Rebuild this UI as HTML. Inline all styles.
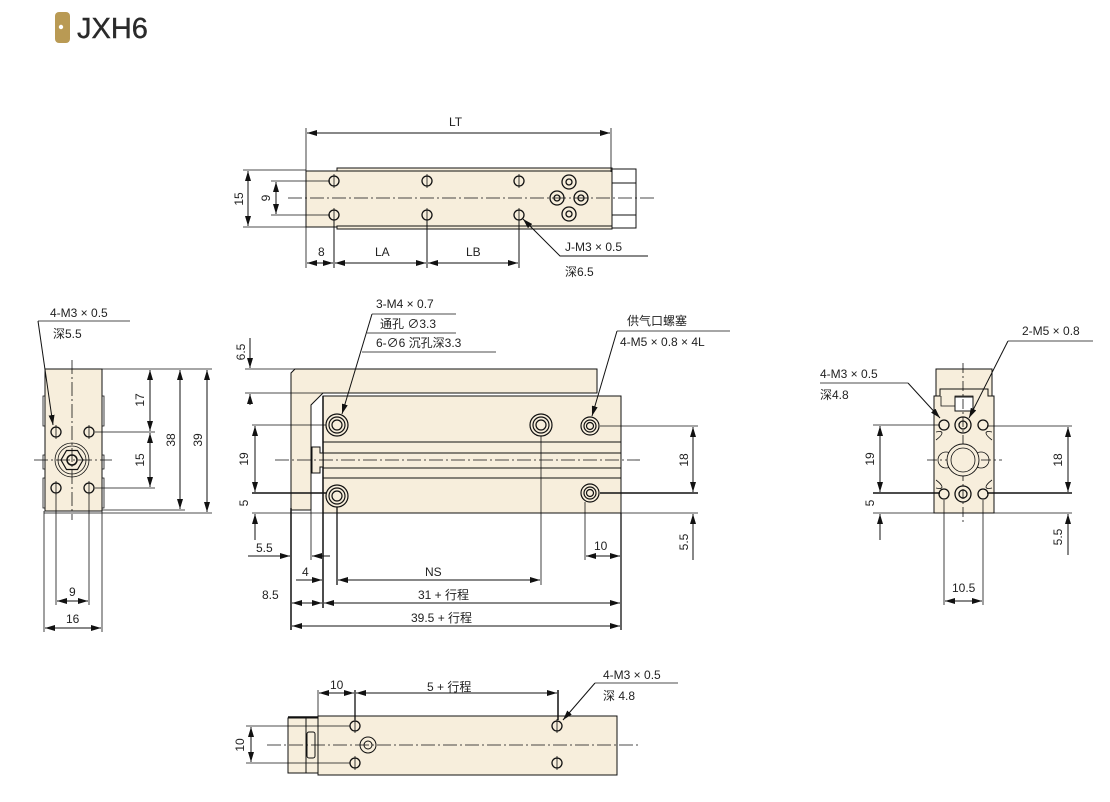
<!DOCTYPE html>
<html><head><meta charset="utf-8">
<style>
html,body{margin:0;padding:0;background:#fff;width:1110px;height:802px;overflow:hidden}
svg{display:block}
text{font-family:"Liberation Sans","Noto Sans CJK SC",sans-serif;font-size:12px;fill:#222}
</style></head><body>
<svg width="1110" height="802" viewBox="0 0 1110 802" xmlns="http://www.w3.org/2000/svg">
<defs>
<marker id="a" viewBox="0 0 10 6" refX="10" refY="3" markerWidth="10" markerHeight="6" orient="auto-start-reverse" markerUnits="userSpaceOnUse"><path d="M0,0L10,3L0,6z" fill="#111"/></marker>
</defs>
<!-- header -->
<rect x="55" y="12" width="15" height="31" rx="4" fill="#b99a54"/>
<circle cx="61" cy="27" r="2.2" fill="#fff"/>
<text x="77" y="38" style="font-size:29px;fill:#2a2a2a;stroke:#2a2a2a;stroke-width:0.4">JXH6</text>

<g stroke="#111" stroke-width="1" fill="none">
<!-- ============ TOP VIEW ============ -->
<rect x="337" y="168" width="275" height="4" fill="#f7eedc"/>
<rect x="306" y="171" width="306" height="56" fill="#f7eedc"/>
<rect x="337" y="226" width="275" height="3" fill="#f7eedc"/>
<rect x="612" y="169" width="24" height="59" fill="#fff"/>
<line x1="612" y1="183" x2="636" y2="183"/><line x1="612" y1="215" x2="636" y2="215"/>
<line x1="288" y1="198" x2="655" y2="198" stroke-dasharray="14 3 2 3" stroke-width="0.8"/>
<g stroke-width="1.3">
<circle cx="334" cy="181" r="5"/><circle cx="427" cy="181" r="5"/><circle cx="519" cy="181" r="5"/>
<circle cx="334" cy="215" r="5"/><circle cx="427" cy="215" r="5"/><circle cx="519" cy="215" r="5"/>
<circle cx="569" cy="182" r="7"/><circle cx="557" cy="198" r="7"/><circle cx="581" cy="198" r="7"/><circle cx="569" cy="214" r="7"/>
<circle cx="569" cy="182" r="3"/><circle cx="557" cy="198" r="3"/><circle cx="581" cy="198" r="3"/><circle cx="569" cy="214" r="3"/>
</g>
<path d="M334,174v14M427,174v14M519,174v14M334,208v14M427,208v14M519,208v14" stroke-width="0.8"/>
<line x1="306" y1="128" x2="306" y2="268" stroke-width="0.8"/>
<line x1="611" y1="128" x2="611" y2="172" stroke-width="0.8"/>
<line x1="307" y1="133" x2="610" y2="133" marker-start="url(#a)" marker-end="url(#a)"/>
<line x1="243" y1="170" x2="306" y2="170" stroke-width="0.8"/><line x1="243" y1="227" x2="306" y2="227" stroke-width="0.8"/>
<line x1="248" y1="171" x2="248" y2="226" marker-start="url(#a)" marker-end="url(#a)"/>
<line x1="271" y1="181" x2="330" y2="181" stroke-width="0.8"/><line x1="271" y1="215" x2="330" y2="215" stroke-width="0.8"/>
<line x1="276" y1="182" x2="276" y2="214" marker-start="url(#a)" marker-end="url(#a)"/>
<line x1="334" y1="220" x2="334" y2="268"/><line x1="427" y1="220" x2="427" y2="268"/><line x1="519" y1="220" x2="519" y2="268"/>
<line x1="307" y1="263" x2="333" y2="263" marker-start="url(#a)" marker-end="url(#a)"/>
<line x1="335" y1="263" x2="426" y2="263" marker-start="url(#a)" marker-end="url(#a)"/>
<line x1="428" y1="263" x2="518" y2="263" marker-start="url(#a)" marker-end="url(#a)"/>
<polyline points="648,256 560,256 523,219" marker-end="url(#a)"/>

<!-- ============ FRONT VIEW ============ -->
<path d="M295,369H597V393H323L311,405V510H291V373Z" fill="#f7eedc"/>
<rect x="323" y="396" width="298" height="117" fill="#f7eedc"/>
<line x1="323" y1="396" x2="323" y2="513" stroke-width="1.5"/>
<line x1="323" y1="442" x2="621" y2="442"/><line x1="323" y1="453" x2="621" y2="453"/>
<line x1="323" y1="468" x2="621" y2="468"/><line x1="323" y1="478" x2="621" y2="478"/>
<path d="M312,447h8v6h3v14h-3v6h-8z" fill="#f7eedc"/>
<line x1="275" y1="460" x2="640" y2="460" stroke-dasharray="14 3 2 3" stroke-width="0.8"/>
<g stroke-width="1.2">
<circle cx="337" cy="425" r="11"/><circle cx="337" cy="425" r="8"/><circle cx="337" cy="425" r="5"/>
<circle cx="541" cy="425" r="11"/><circle cx="541" cy="425" r="8"/><circle cx="541" cy="425" r="5"/>
<circle cx="337" cy="496" r="11"/><circle cx="337" cy="496" r="8"/><circle cx="337" cy="496" r="5"/>
<circle cx="590" cy="426" r="9"/><circle cx="590" cy="426" r="6"/><circle cx="590" cy="426" r="3.5"/>
<circle cx="590" cy="493" r="9"/><circle cx="590" cy="493" r="6"/><circle cx="590" cy="493" r="3.5"/>
</g>
<line x1="245" y1="369" x2="295" y2="369" stroke-width="0.8"/><line x1="245" y1="393" x2="323" y2="393" stroke-width="0.8"/>
<line x1="250" y1="338" x2="250" y2="368" marker-end="url(#a)"/>
<line x1="250" y1="405" x2="250" y2="394" marker-end="url(#a)"/>
<line x1="252" y1="425" x2="326" y2="425" stroke-width="0.8"/>
<line x1="252" y1="493" x2="326" y2="493" stroke-width="1.5"/>
<line x1="252" y1="513" x2="621" y2="513" stroke-width="0.8"/>
<line x1="255" y1="426" x2="255" y2="492" marker-start="url(#a)" marker-end="url(#a)"/>
<line x1="255" y1="540" x2="255" y2="514" marker-end="url(#a)"/>
<line x1="600" y1="426" x2="698" y2="426" stroke-width="0.8"/>
<line x1="600" y1="493" x2="698" y2="493" stroke-width="1.5"/>
<line x1="621" y1="513" x2="698" y2="513" stroke-width="0.8"/>
<line x1="693" y1="427" x2="693" y2="492" marker-start="url(#a)" marker-end="url(#a)"/>
<line x1="693" y1="560" x2="693" y2="514" marker-end="url(#a)"/>
<line x1="291" y1="508" x2="291" y2="630" stroke-width="1.5"/>
<line x1="311" y1="510" x2="311" y2="560" stroke-width="0.8"/>
<line x1="323" y1="513" x2="323" y2="608" stroke-width="1.5"/>
<line x1="337" y1="507" x2="337" y2="585" stroke-width="1.3"/>
<line x1="541" y1="436" x2="541" y2="585" stroke-width="0.8"/>
<line x1="585" y1="502" x2="585" y2="560" stroke-width="0.8"/>
<line x1="621" y1="513" x2="621" y2="630" stroke-width="1.3"/>
<line x1="248" y1="556" x2="290" y2="556" marker-end="url(#a)"/>
<line x1="330" y1="556" x2="312" y2="556" marker-end="url(#a)"/>
<line x1="296" y1="580" x2="322" y2="580" marker-end="url(#a)"/>
<line x1="338" y1="580" x2="540" y2="580" marker-start="url(#a)" marker-end="url(#a)"/>
<line x1="586" y1="556" x2="620" y2="556" marker-start="url(#a)" marker-end="url(#a)"/>
<line x1="292" y1="603" x2="322" y2="603" marker-start="url(#a)" marker-end="url(#a)"/>
<line x1="324" y1="603" x2="620" y2="603" marker-start="url(#a)" marker-end="url(#a)"/>
<line x1="292" y1="626" x2="620" y2="626" marker-start="url(#a)" marker-end="url(#a)"/>
<line x1="372" y1="314" x2="456" y2="314" stroke-width="0.8"/>
<line x1="367" y1="333" x2="456" y2="333" stroke-width="0.8"/>
<line x1="362" y1="352" x2="496" y2="352" stroke-width="0.8"/>
<polyline points="372,314 342,414" marker-end="url(#a)"/>
<line x1="617" y1="331" x2="730" y2="331" stroke-width="0.8"/>
<polyline points="617,331 592,416" marker-end="url(#a)"/>

<!-- ============ LEFT VIEW ============ -->
<rect x="45" y="369" width="57" height="142" fill="#f7eedc"/>
<path d="M45,396h-2v30h2M45,455h-2v14h2M45,478h-2v30h2M102,396h2v30h-2M102,455h2v14h-2M102,478h2v30h-2" stroke-width="0.8"/>
<line x1="72" y1="360" x2="72" y2="520" stroke-dasharray="14 3 2 3" stroke-width="0.8"/>
<line x1="34" y1="460" x2="112" y2="460" stroke-dasharray="14 3 2 3" stroke-width="0.8"/>
<circle cx="72" cy="460" r="17" stroke-width="0.8"/><circle cx="72" cy="460" r="14" stroke-width="0.8"/>
<polygon points="83,460 77.5,469.5 66.5,469.5 61,460 66.5,450.5 77.5,450.5" stroke-width="1.2"/>
<circle cx="72" cy="460" r="5" stroke-width="1.5"/>
<g stroke-width="1.3"><circle cx="56" cy="432" r="5"/><circle cx="89" cy="432" r="5"/><circle cx="56" cy="488" r="5"/><circle cx="89" cy="488" r="5"/></g>
<path d="M56,425v14M89,425v14M56,481v14M89,481v14" stroke-width="0.8"/>
<line x1="102" y1="369" x2="212" y2="369" stroke-width="0.8"/>
<line x1="95" y1="432" x2="155" y2="432" stroke-width="0.8"/>
<line x1="95" y1="488" x2="155" y2="488" stroke-width="0.8"/>
<line x1="102" y1="510" x2="185" y2="510" stroke-width="0.8"/>
<line x1="44" y1="513" x2="212" y2="513" stroke-width="0.8"/>
<line x1="150" y1="370" x2="150" y2="431" marker-start="url(#a)" marker-end="url(#a)"/>
<line x1="150" y1="433" x2="150" y2="487" marker-start="url(#a)" marker-end="url(#a)"/>
<line x1="180" y1="370" x2="180" y2="509" marker-start="url(#a)" marker-end="url(#a)"/>
<line x1="207" y1="370" x2="207" y2="512" marker-start="url(#a)" marker-end="url(#a)"/>
<line x1="56" y1="494" x2="56" y2="605" stroke-width="0.8"/><line x1="89" y1="494" x2="89" y2="605" stroke-width="0.8"/>
<line x1="44" y1="511" x2="44" y2="632" stroke-width="0.8"/><line x1="102" y1="511" x2="102" y2="632" stroke-width="0.8"/>
<line x1="57" y1="601" x2="88" y2="601" marker-start="url(#a)" marker-end="url(#a)"/>
<line x1="45" y1="628" x2="101" y2="628" marker-start="url(#a)" marker-end="url(#a)"/>
<line x1="38" y1="321" x2="130" y2="321" stroke-width="0.8"/>
<polyline points="38,321 53,425" marker-end="url(#a)"/>

<!-- ============ RIGHT VIEW ============ -->
<rect x="936" y="369" width="56" height="30" fill="#f7eedc"/>
<path d="M934,396h6v-7h48v7h6v117h-60z" fill="#f7eedc"/>
<path d="M941,396v10h14v-10h18v10M955,406v5" stroke-width="0.8"/>
<rect x="955" y="397" width="18" height="14" fill="#fff"/>
<line x1="963" y1="363" x2="963" y2="522" stroke-dasharray="10 3 2 3" stroke-width="0.8"/>
<line x1="927" y1="460" x2="1002" y2="460" stroke-dasharray="10 3 2 3" stroke-width="0.8"/>
<path d="M936,440c8,-6 8,-10 0,-8M992,440c-8,-6 -8,-10 0,-8M936,480c8,6 8,10 0,8M992,480c-8,6 -8,10 0,8" stroke-width="0.8"/>
<circle cx="946" cy="460" r="8" stroke-width="0.8"/><circle cx="981" cy="460" r="8" stroke-width="0.8"/>
<circle cx="963" cy="460" r="16" stroke-width="0.9" fill="#f7eedc"/><circle cx="963" cy="460" r="12" stroke-width="0.8"/>
<g stroke-width="1.3">
<circle cx="944" cy="425" r="5"/><circle cx="983" cy="425" r="5"/><circle cx="944" cy="494" r="5"/><circle cx="983" cy="494" r="5"/>
<circle cx="963" cy="425" r="8"/><circle cx="963" cy="425" r="4"/><circle cx="963" cy="494" r="8"/><circle cx="963" cy="494" r="4"/>
</g>
<line x1="873" y1="425" x2="940" y2="425" stroke-width="0.8"/>
<line x1="873" y1="493" x2="940" y2="493" stroke-width="1.5"/>
<line x1="873" y1="513" x2="1072" y2="513" stroke-width="0.8"/>
<line x1="987" y1="426" x2="1072" y2="426" stroke-width="0.8"/>
<line x1="987" y1="493" x2="1072" y2="493" stroke-width="1.5"/>
<line x1="880" y1="426" x2="880" y2="492" marker-start="url(#a)" marker-end="url(#a)"/>
<line x1="880" y1="540" x2="880" y2="514" marker-end="url(#a)"/>
<line x1="1068" y1="427" x2="1068" y2="492" marker-start="url(#a)" marker-end="url(#a)"/>
<line x1="1068" y1="555" x2="1068" y2="514" marker-end="url(#a)"/>
<line x1="944" y1="500" x2="944" y2="605" stroke-width="0.8"/><line x1="983" y1="500" x2="983" y2="605" stroke-width="0.8"/>
<line x1="945" y1="601" x2="982" y2="601" marker-start="url(#a)" marker-end="url(#a)"/>
<line x1="820" y1="383" x2="908" y2="383" stroke-width="0.8"/>
<polyline points="908,383 940,418" marker-end="url(#a)"/>
<line x1="1008" y1="341" x2="1093" y2="341" stroke-width="0.8"/>
<polyline points="1008,341 969,418" marker-end="url(#a)"/>

<!-- ============ BOTTOM VIEW ============ -->
<rect x="288" y="718" width="30" height="55" fill="#f7eedc"/>
<line x1="306" y1="718" x2="306" y2="773"/>
<rect x="318" y="716" width="299" height="59" fill="#f7eedc"/>
<line x1="288" y1="717" x2="318" y2="717" stroke-width="1.5"/>
<rect x="307" y="732" width="8" height="26" rx="2" fill="#f7eedc"/>
<line x1="267" y1="745" x2="640" y2="745" stroke-dasharray="14 3 2 3" stroke-width="0.8"/>
<g stroke-width="1.3"><circle cx="355" cy="726" r="5"/><circle cx="557" cy="726" r="5"/><circle cx="355" cy="763" r="5"/><circle cx="557" cy="763" r="5"/></g>
<path d="M355,719v14M557,719v14M355,756v14M557,756v14" stroke-width="0.8"/>
<circle cx="368" cy="745" r="8" stroke-width="1"/><circle cx="368" cy="745" r="4" stroke-width="1"/>
<line x1="246" y1="726" x2="350" y2="726" stroke-width="0.8"/>
<line x1="246" y1="763" x2="350" y2="763" stroke-width="0.8"/>
<line x1="251" y1="727" x2="251" y2="762" marker-start="url(#a)" marker-end="url(#a)"/>
<line x1="318" y1="690" x2="318" y2="716" stroke-width="0.8"/>
<line x1="355" y1="690" x2="355" y2="720" stroke-width="1.3"/>
<line x1="558" y1="690" x2="558" y2="720" stroke-width="1.5"/>
<line x1="319" y1="693" x2="354" y2="693" marker-start="url(#a)" marker-end="url(#a)"/>
<line x1="356" y1="693" x2="557" y2="693" marker-start="url(#a)" marker-end="url(#a)"/>
<line x1="595" y1="683" x2="678" y2="683" stroke-width="0.8"/>
<polyline points="595,683 563,720" marker-end="url(#a)"/>
</g>

<!-- ============ TEXT ============ -->
<text x="449" y="126">LT</text>
<text x="318" y="256">8</text>
<text x="375" y="256">LA</text>
<text x="466" y="256">LB</text>
<text x="565" y="251">J-M3 × 0.5</text>
<text x="565" y="276">深6.5</text>
<text transform="translate(243,199) rotate(-90)" text-anchor="middle">15</text>
<text transform="translate(270,198) rotate(-90)" text-anchor="middle">9</text>

<text x="376" y="308">3-M4 × 0.7</text>
<text x="380" y="328">通孔 ∅3.3</text>
<text x="376" y="347">6-∅6 沉孔深3.3</text>
<text x="627" y="325">供气口螺塞</text>
<text x="620" y="346">4-M5 × 0.8 × 4L</text>
<text transform="translate(245,352) rotate(-90)" text-anchor="middle">6.5</text>
<text transform="translate(248,459) rotate(-90)" text-anchor="middle">19</text>
<text transform="translate(248,503) rotate(-90)" text-anchor="middle">5</text>
<text transform="translate(688,460) rotate(-90)" text-anchor="middle">18</text>
<text transform="translate(688,542) rotate(-90)" text-anchor="middle">5.5</text>
<text x="256" y="552">5.5</text>
<text x="302" y="576">4</text>
<text x="425" y="576">NS</text>
<text x="594" y="550">10</text>
<text x="262" y="599">8.5</text>
<text x="418" y="599">31 + 行程</text>
<text x="411" y="622">39.5 + 行程</text>

<text x="50" y="317">4-M3 × 0.5</text>
<text x="53" y="338">深5.5</text>
<text transform="translate(144,400) rotate(-90)" text-anchor="middle">17</text>
<text transform="translate(144,460) rotate(-90)" text-anchor="middle">15</text>
<text transform="translate(175,440) rotate(-90)" text-anchor="middle">38</text>
<text transform="translate(202,440) rotate(-90)" text-anchor="middle">39</text>
<text x="69" y="596">9</text>
<text x="66" y="623">16</text>

<text x="820" y="378">4-M3 × 0.5</text>
<text x="820" y="399">深4.8</text>
<text x="1022" y="335">2-M5 × 0.8</text>
<text transform="translate(874,459) rotate(-90)" text-anchor="middle">19</text>
<text transform="translate(874,503) rotate(-90)" text-anchor="middle">5</text>
<text transform="translate(1062,460) rotate(-90)" text-anchor="middle">18</text>
<text transform="translate(1062,537) rotate(-90)" text-anchor="middle">5.5</text>
<text x="952" y="592">10.5</text>

<text x="330" y="689">10</text>
<text x="427" y="691">5 + 行程</text>
<text x="603" y="679">4-M3 × 0.5</text>
<text x="603" y="700">深 4.8</text>
<text transform="translate(244,745) rotate(-90)" text-anchor="middle">10</text>
</svg>
</body></html>
